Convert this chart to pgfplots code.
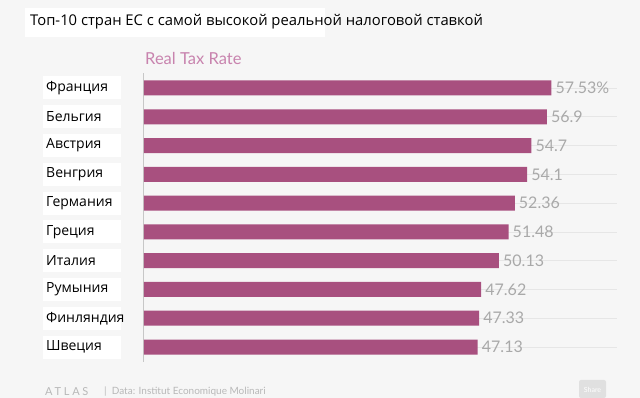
\documentclass[border=0pt]{standalone}
\usepackage{pgfplots}
\pgfplotsset{compat=1.18}
\usepackage{pgfplotstable}
\usepackage{fontspec}
\setmainfont{Open Sans}
\newfontfamily\latofont{Lato}
\definecolor{bg}{HTML}{F6F6F6}
\definecolor{barc}{HTML}{A8507F}
\definecolor{pinkt}{HTML}{C883AE}
\definecolor{valc}{HTML}{A9A9A9}
\definecolor{gridc}{HTML}{E6E6E6}
\pgfplotstableread{
idx val lab
0 57.53 57.53\%
1 56.9 56.9
2 54.7 54.7
3 54.1 54.1
4 52.36 52.36
5 51.48 51.48
6 50.13 50.13
7 47.62 47.62
8 47.33 47.33
9 47.13 47.13
}\taxdata
\begin{document}
\begin{tikzpicture}[x=1pt,y=1pt]
\fill[bg] (0,0) rectangle (640,398);
\useasboundingbox (0,0) rectangle (640,398);
\fill[white] (25,361) rectangle (325,390);
\node[anchor=west, inner sep=0pt, font=\fontsize{14.8}{16}\selectfont] at (30,376) {Топ-10 стран ЕС с самой высокой реальной налоговой ставкой};
\node[anchor=west, inner sep=0pt, text=pinkt, font=\latofont\fontsize{16.5}{18}\selectfont] at (145,340) {Real Tax Rate};
\begin{axis}[
  at={(144pt,36pt)}, anchor=south west,
  scale only axis, width=473pt, height=289pt,
  xbar, bar width=15pt,
  xmin=0, xmax=66.8,
  ymin=-0.52, ymax=9.52, y dir=reverse,
  axis x line=none,
  axis y line*=left,
  y axis line style={draw=black!22, line width=1pt},
  ytick={0,...,9},
  yticklabels={Франция,Бельгия,Австрия,Венгрия,Германия,Греция,Италия,Румыния,Финляндия,Швеция},
  major tick length=0pt,
  yticklabel style={anchor=west, xshift=-101pt, fill=white, text width=72pt, minimum height=23pt, align=left, inner sep=3pt, font=\fontsize{14}{16}\selectfont},
  ymajorgrids, grid style={gridc, line width=0.6pt},
  axis on top=false,
  point meta=explicit symbolic,
  nodes near coords,
  nodes near coords style={anchor=west, text=valc, font=\latofont\fontsize{16}{18}\selectfont, inner sep=0pt, xshift=4pt},
  clip=false,
]
\addplot[fill=barc, draw=none] table[x=val, y=idx, meta=lab] {\taxdata};
\end{axis}
\node[anchor=west, inner sep=0pt, text=black!28, font=\latofont\fontsize{11}{12}\selectfont] at (45,6) {\addfontfeature{LetterSpace=25}ATLAS};
\node[anchor=west, inner sep=0pt, text=black!28, font=\latofont\fontsize{10}{12}\selectfont] at (104,6) {|\ \ Data: Institut Economique Molinari};
\fill[black!12, rounded corners=2pt] (579,0) rectangle (606,18);
\node[text=white, inner sep=0pt, font=\latofont\fontsize{7}{8}\selectfont] at (592.5,8) {Share};
\end{tikzpicture}
\end{document}
